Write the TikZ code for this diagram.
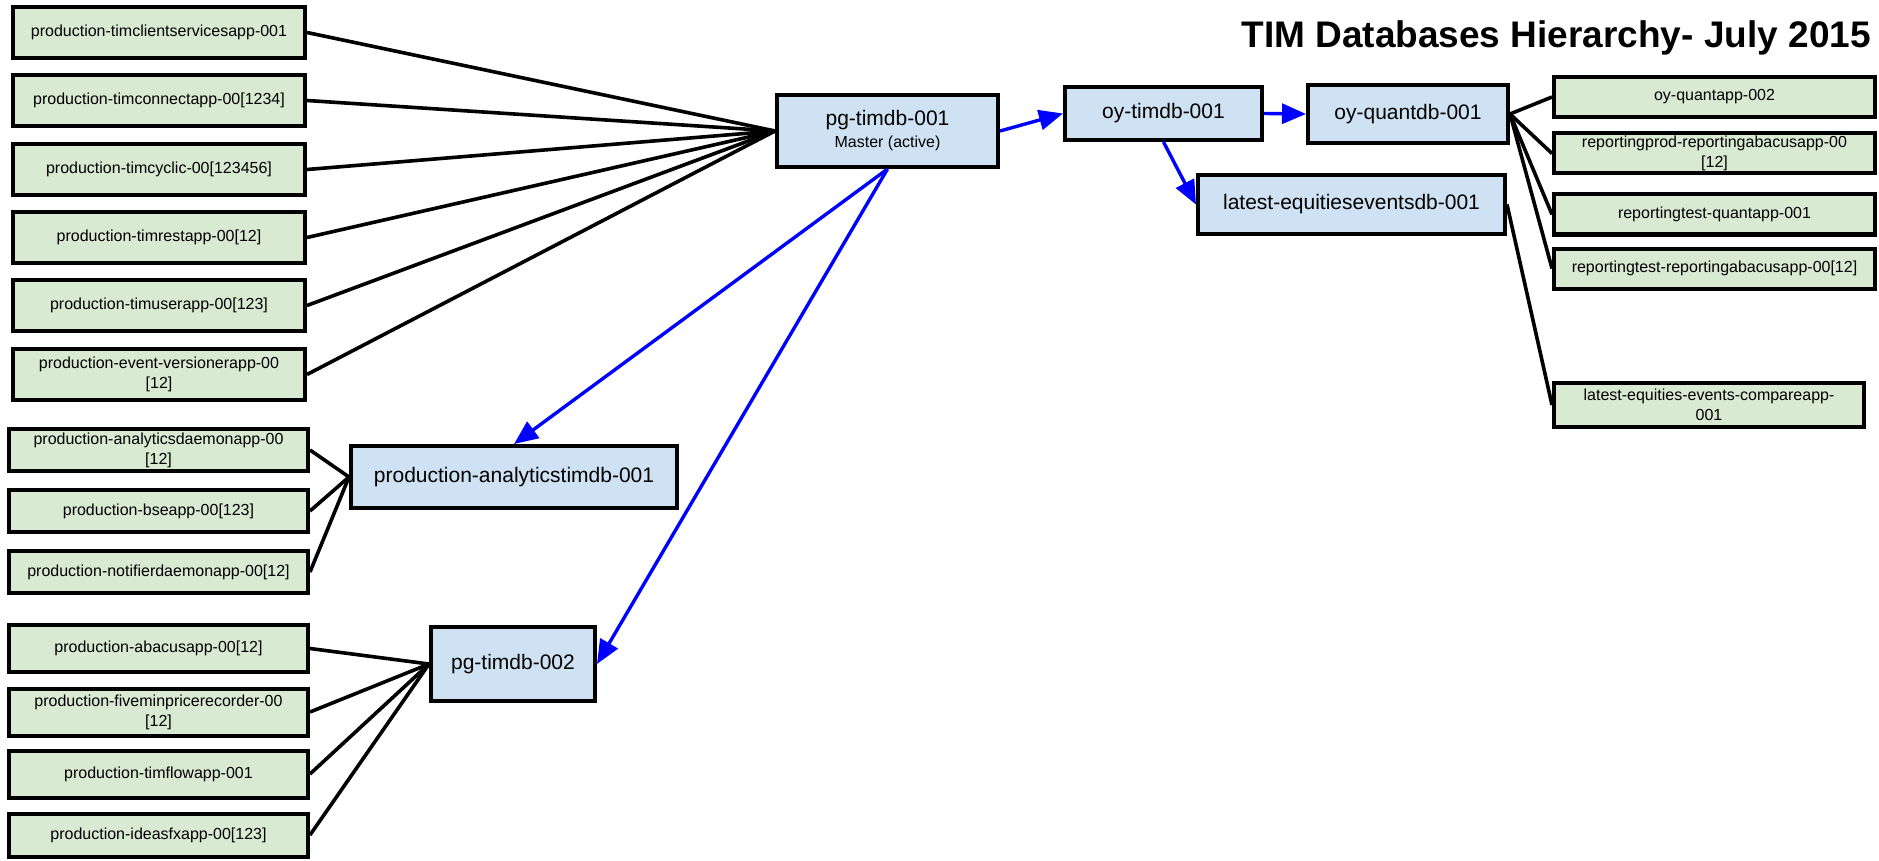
\documentclass[tikz,border=0pt]{standalone}
\usepackage{fontspec}
\setmainfont{Liberation Sans}
\usetikzlibrary{arrows.meta}
\definecolor{appgreen}{HTML}{D9EAD3}
\definecolor{dbblue}{HTML}{CFE2F3}
\definecolor{linkblue}{HTML}{0000FF}
\begin{document}
\begin{tikzpicture}[x=1pt,y=-1pt,
  box/.style={draw=black, line width=4pt, rectangle, inner sep=0pt, align=center,
              font=\fontsize{16pt}{20pt}\selectfont},
  appbox/.style={box, fill=appgreen},
  dbbox/.style={box, fill=dbblue, font=\fontsize{21pt}{24pt}\selectfont},
  conn/.style={draw=black, line width=3.6pt},
  repl/.style={draw=linkblue, line width=3.4pt, -{Triangle[length=24pt,width=20pt]}},
]
\fill[white] (0,0) rectangle (1879,861);
\useasboundingbox (0,0) rectangle (1879,861);

% title
\node[anchor=base east, inner sep=0pt, font=\fontsize{37pt}{40pt}\selectfont\bfseries] (title) at (1871,47.6) {TIM Databases Hierarchy- July 2015};

% database nodes
\node[dbbox, minimum width=221pt, minimum height=72pt] (pg1) at (887.5,131) {pg-timdb-001\\[-2pt]{\fontsize{16pt}{18pt}\selectfont Master (active)}};
\node[dbbox, minimum width=197pt, minimum height=53pt] (oy) at (1163.5,113.5) {oy-timdb-001};
\node[dbbox, minimum width=200pt, minimum height=58pt] (quant) at (1408,114) {oy-quantdb-001};
\node[dbbox, minimum width=307pt, minimum height=59pt] (latest) at (1351.5,204.5) {latest-equitieseventsdb-001};
\node[dbbox, minimum width=326pt, minimum height=62pt] (analytics) at (514,477) {production-analyticstimdb-001};
\node[dbbox, minimum width=164pt, minimum height=74pt] (pg2) at (513,664) {pg-timdb-002};

% group 1
\node[appbox, minimum width=292pt, minimum height=51pt] (g1) at (159,32.5) {production-timclientservicesapp-001};
\node[appbox, minimum width=292pt, minimum height=51pt] (g2) at (159,100.5) {production-timconnectapp-00[1234]};
\node[appbox, minimum width=292pt, minimum height=51pt] (g3) at (159,169.5) {production-timcyclic-00[123456]};
\node[appbox, minimum width=292pt, minimum height=51pt] (g4) at (159,237.5) {production-timrestapp-00[12]};
\node[appbox, minimum width=292pt, minimum height=51pt] (g5) at (159,305.5) {production-timuserapp-00[123]};
\node[appbox, minimum width=292pt, minimum height=51pt] (g6) at (159,374.5) {production-event-versionerapp-00\\{}[12]};

% group 2
\node[appbox, minimum width=299pt, minimum height=42pt] (a1) at (158.5,450) {production-analyticsdaemonapp-00\\{}[12]};
\node[appbox, minimum width=299pt, minimum height=42pt] (a2) at (158.5,511) {production-bseapp-00[123]};
\node[appbox, minimum width=299pt, minimum height=42pt] (a3) at (158.5,572) {production-notifierdaemonapp-00[12]};

% group 3
\node[appbox, minimum width=299pt, minimum height=47pt] (b1) at (158.5,648.5) {production-abacusapp-00[12]};
\node[appbox, minimum width=299pt, minimum height=47pt] (b2) at (158.5,712) {production-fiveminpricerecorder-00\\{}[12]};
\node[appbox, minimum width=299pt, minimum height=47pt] (b3) at (158.5,774) {production-timflowapp-001};
\node[appbox, minimum width=299pt, minimum height=43pt] (b4) at (158.5,835) {production-ideasfxapp-00[123]};

% right column
\node[appbox, minimum width=321pt, minimum height=40pt] (r1) at (1714.5,97) {oy-quantapp-002};
\node[appbox, minimum width=321pt, minimum height=40pt] (r2) at (1714.5,153.5) {reportingprod-reportingabacusapp-00\\{}[12]};
\node[appbox, minimum width=321pt, minimum height=40pt] (r3) at (1714.5,214.5) {reportingtest-quantapp-001};
\node[appbox, minimum width=321pt, minimum height=40pt] (r4) at (1714.5,268.5) {reportingtest-reportingabacusapp-00[12]};
\node[appbox, minimum width=310pt, minimum height=44pt] (r5) at (1709,405) {latest-equities-events-compareapp-\\001};

% black connectors
\foreach \n in {g1,g2,g3,g4,g5,g6} \draw[conn] (\n.east) -- (pg1.west);
\foreach \n in {a1,a2,a3} \draw[conn] (\n.east) -- (analytics.west);
\foreach \n in {b1,b2,b3,b4} \draw[conn] (\n.east) -- (pg2.west);
\foreach \n in {r1,r2,r3,r4} \draw[conn] (quant.east) -- (\n.west);
\draw[conn] (latest.east) -- (r5.west);

% replication arrows
\draw[repl] (pg1.east) -- (oy.west);
\draw[repl] (oy.east) -- (quant.west);
\draw[repl] (oy.south) -- (latest.west);
\draw[repl] (pg1.south) -- (analytics.north);
\draw[repl] (pg1.south) -- (pg2.east);
\end{tikzpicture}
\end{document}
